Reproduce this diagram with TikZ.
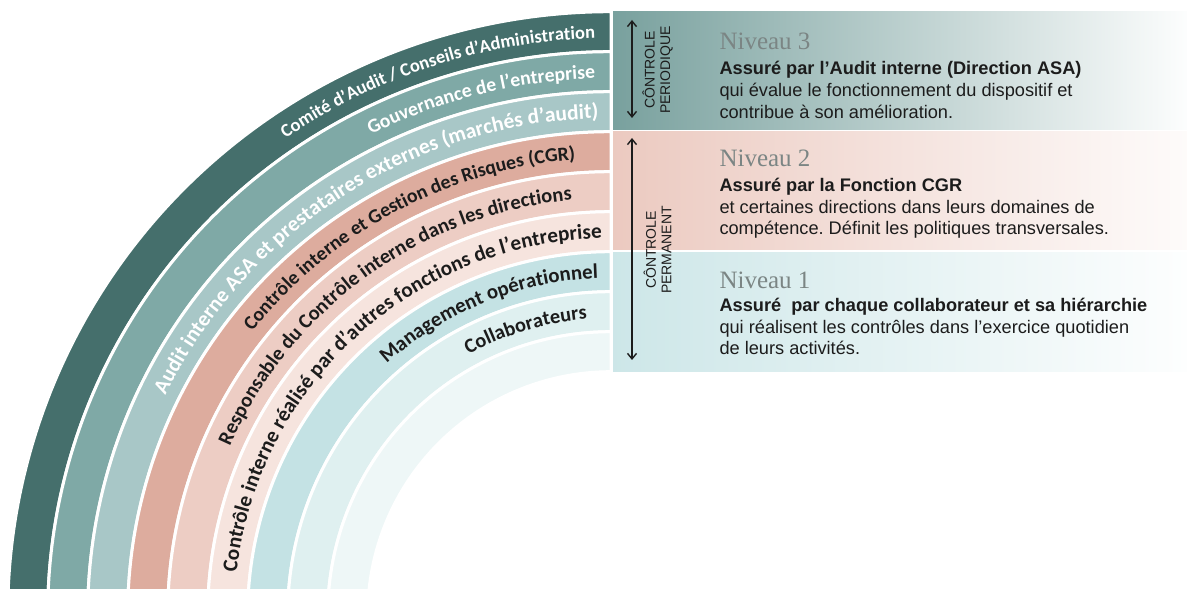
\documentclass[tikz,border=0pt]{standalone}
\usepackage{fontspec}
\setmainfont{Liberation Sans}
\newfontfamily\bandfont{Carlito}
\newfontfamily\titlefont{Liberation Serif}
\usetikzlibrary{decorations.text,arrows.meta}
\definecolor{bA}{HTML}{456F6C}
\definecolor{bB}{HTML}{7FA9A6}
\definecolor{bC}{HTML}{A8C7C7}
\definecolor{bD}{HTML}{DDAC9E}
\definecolor{bE}{HTML}{EDCDC4}
\definecolor{bF}{HTML}{F6E4DE}
\definecolor{bG}{HTML}{C4E2E4}
\definecolor{bH}{HTML}{DFF0F0}
\definecolor{bI}{HTML}{EEF7F7}
\definecolor{txtgray}{HTML}{7B8584}
\definecolor{ink}{HTML}{1C1C1C}
\frenchspacing
\begin{document}
\begin{tikzpicture}[x=1pt,y=1pt,
  bandtext/.style={decorate,decoration={text along path,text align=right,text={#1}}},
  bodyline/.style={anchor=base west,inner sep=0pt,text=ink,font=\fontsize{18.2}{21}\selectfont},
  boldline/.style={bodyline,font=\fontsize{18.2}{21}\selectfont\bfseries},
  niveau/.style={anchor=base west,inner sep=0pt,text=txtgray,font=\titlefont\fontsize{25}{28}\selectfont},
  vlabel/.style={rotate=90,align=center,inner sep=0pt,text=ink,font=\fontsize{14}{15.5}\selectfont},
  ctrlarrow/.style={{Straight Barb[length=5.5pt,width=9pt]}-{Straight Barb[length=5.5pt,width=9pt]},line width=1.4pt,ink}
]
\useasboundingbox (0,0) rectangle (1187,589);
\fill[white] (0,0) rectangle (1187,589);
% ---------- arcs ----------
\begin{scope}
\clip (0,0) rectangle (1187,589);
\begin{scope}[shift={(611,-26)}]
\foreach \i/\c in {0/bA,1/bB,2/bC,3/bD,4/bE,5/bF,6/bG,7/bH,8/bI}{
  \pgfmathsetmacro\ro{603.3-40*\i}
  \pgfmathsetmacro\ri{\ro-40}
  \fill[\c,draw=white,line width=3pt] (90:\ro) arc[start angle=90,end angle=186,radius=\ro]
     -- (186:\ri) arc[start angle=186,end angle=90,radius=\ri] -- cycle;
}
\newcommand\wlab[1]{\bandfont\bfseries\fontsize{#1}{24}\selectfont\color{white}}
\newcommand\klab[1]{\bandfont\bfseries\fontsize{#1}{24}\selectfont\color{ink}}
\path[bandtext={|\wlab{18.5}|Comité d’Audit / Conseils d’Administration}]
  (150:576.8) arc[start angle=150,end angle=91.6,radius=576.8];
\path[bandtext={|\wlab{19.7}|Gouvernance de l’entreprise}]
  (150:536.8) arc[start angle=150,end angle=91.7,radius=536.8];
\path[bandtext={|\wlab{21.5}|Audit interne ASA et prestataires externes (marchés d’audit)}]
  (178:496.8) arc[start angle=178,end angle=91.5,radius=496.8];
\path[bandtext={|\klab{19.8}|Contrôle interne et Gestion des Risques (CGR)}]
  (170:456.8) arc[start angle=170,end angle=94.5,radius=456.8];
\path[bandtext={|\klab{20.5}|Responsable du Contrôle interne dans les directions}]
  (180:416.8) arc[start angle=180,end angle=95.4,radius=416.8];
\path[bandtext={|\klab{21.2}|Contrôle interne réalisé par d’autres fonctions de l’entreprise}]
  (195:376.8) arc[start angle=195,end angle=91.4,radius=376.8];
\path[bandtext={|\klab{20.8}|Management opérationnel}]
  (160:336.8) arc[start angle=160,end angle=92.2,radius=336.8];
\path[bandtext={|\klab{20.4}|Collaborateurs}]
  (150:296.8) arc[start angle=150,end angle=94.6,radius=296.8];
\end{scope}
\end{scope}
% ---------- level boxes ----------
\shade[left color=bB!95!black, middle color=bC!70!white, right color=white!97!bC]
  (613,459) rectangle (1187,577.3);
\shade[left color=bE!90!bD, middle color=bE!55!white, right color=white!92!bE]
  (613,339) rectangle (1187,457.3);
\shade[left color=bG!85!white, middle color=bH!70!white, right color=white!94!bH]
  (613,217.3) rectangle (1187,336.7);
% ---------- arrows ----------
\coordinate (perTop) at (632,569);
\coordinate (perBot) at (632,471);
\coordinate (permTop) at (632,451);
\coordinate (permBot) at (632,229);
\draw[ctrlarrow] (perTop) -- (perBot);
\draw[ctrlarrow] (permTop) -- (permBot);
\node[vlabel] (lblPer) at (657.5,519) {CÔNTROLE\\PERIODIQUE};
\node[vlabel] (lblPerm) at (657.5,339) {CÔNTROLE\\PERMANENT};
% ---------- texts ----------
\node[niveau] (n3) at (719.3,539) {Niveau 3};
\node[boldline] (n3a) at (719.3,514) {Assuré par l’Audit interne (Direction ASA)};
\node[bodyline] (n3b) at (719.3,492.3) {qui évalue le fonctionnement du dispositif et};
\node[bodyline] (n3c) at (719.3,470.7) {contribue à son amélioration.};
\node[niveau] (n2) at (719.3,422.3) {Niveau 2};
\node[boldline] (n2a) at (719.3,397.3) {Assuré par la Fonction CGR};
\node[bodyline] (n2b) at (719.3,375.7) {et certaines directions dans leurs domaines de};
\node[bodyline] (n2c) at (719.3,354) {compétence. Définit les politiques transversales.};
\node[niveau] (n1) at (719.3,300.7) {Niveau 1};
\node[boldline] (n1a) at (719.3,277.3) {Assuré\ \ par chaque collaborateur et sa hiérarchie};
\node[bodyline] (n1b) at (719.3,255.7) {qui réalisent les contrôles dans l’exercice quotidien};
\node[bodyline] (n1c) at (719.3,234) {de leurs activités.};
\end{tikzpicture}
\end{document}
